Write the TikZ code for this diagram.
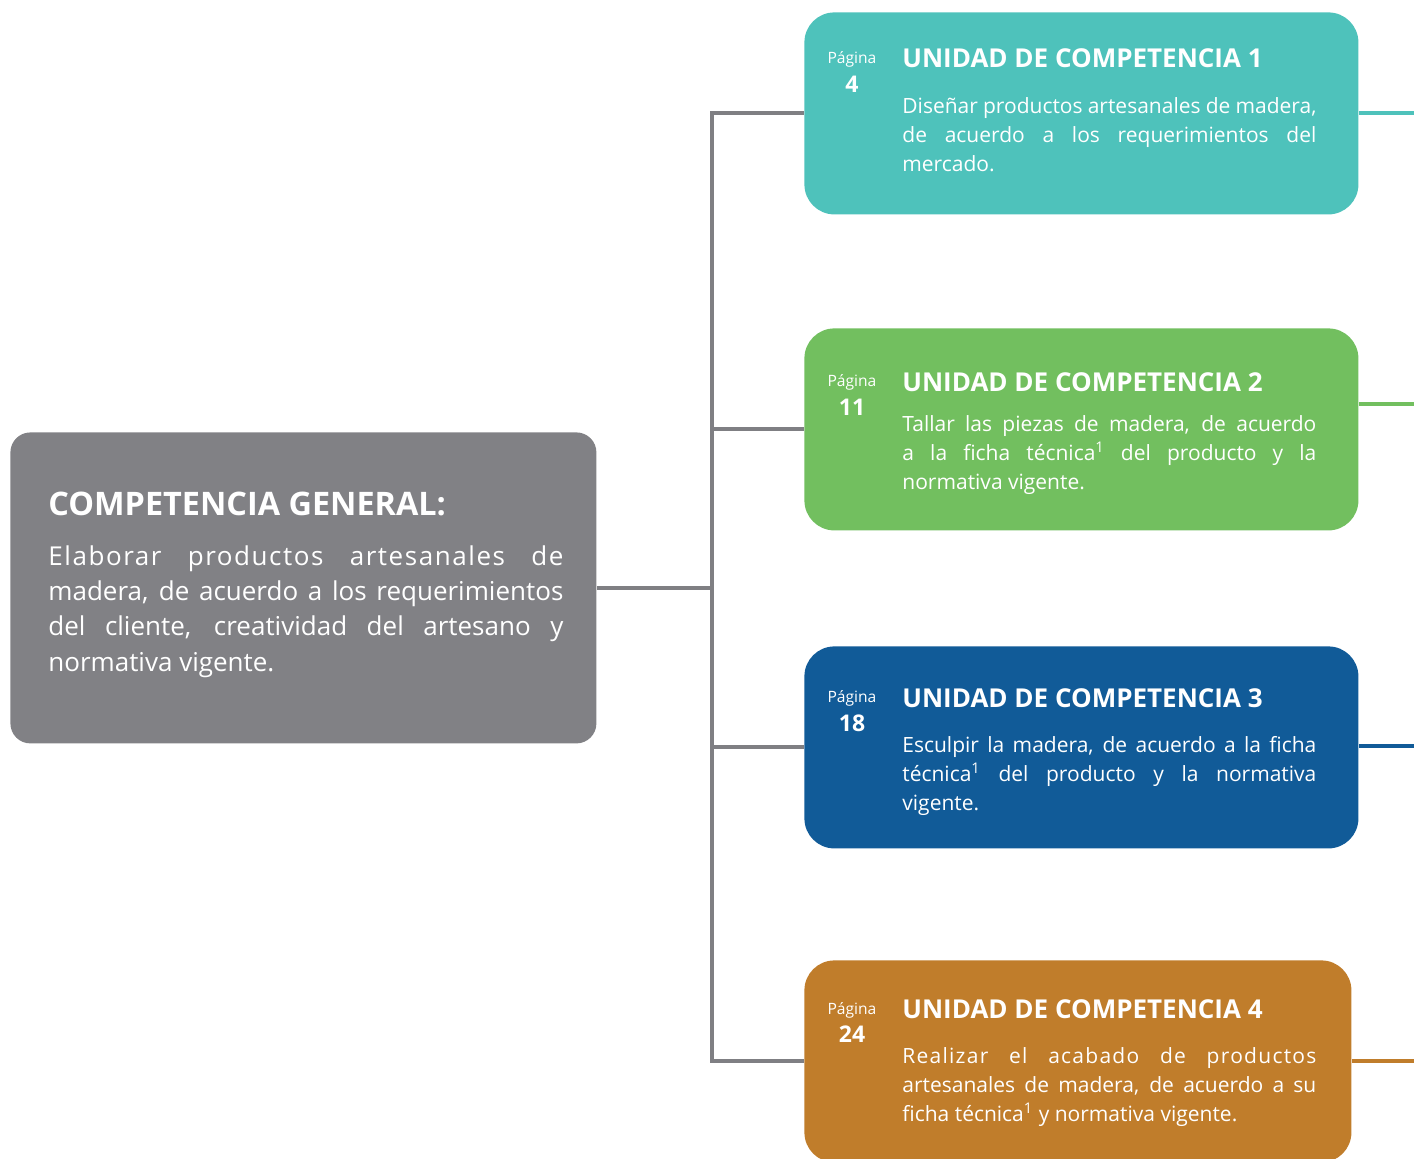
\documentclass[tikz,border=0pt]{standalone}
\usepackage{fontspec}
\setmainfont{Open Sans}
\usetikzlibrary{positioning}
\definecolor{gris}{HTML}{818185}
\definecolor{linea}{HTML}{7F7F83}
\definecolor{turquesa}{HTML}{4EC2BB}
\definecolor{verde}{HTML}{72BF5F}
\definecolor{azul}{HTML}{115B98}
\definecolor{ocre}{HTML}{C07D2B}
\begin{document}
\begin{tikzpicture}[x=0.5pt, y=-0.5pt,
  caja/.style={rounded corners=15pt, anchor=north west, minimum width=277pt, minimum height=101pt, inner sep=0pt},
  pag/.style={white, inner sep=0pt, anchor=base, font=\fontsize{7.8}{9}\selectfont},
  num/.style={white, inner sep=0pt, anchor=base, font=\fontsize{11.5}{13}\selectfont\bfseries},
  titulo/.style={white, inner sep=0pt, anchor=base west, font=\fontsize{13}{15}\selectfont\bfseries},
  texto/.style={white, inner sep=0pt, anchor=base west, text width=207pt, align=justify, font=\fontsize{10.5}{14.5}\selectfont},
  conector/.style={linea, line width=2pt}]
\useasboundingbox (0,0) rectangle (1414,1158);
\clip (0,0) rectangle (1414,1158);

\node[caja, fill=gris, rounded corners=10pt, minimum width=293pt, minimum height=155.5pt] (gen) at (10,432) {};
\node[white, inner sep=0pt, anchor=base west, font=\fontsize{16.2}{19}\selectfont\bfseries] (gentit) at (48,515) {COMPETENCIA GENERAL:};
\node[texto, text width=257.5pt, font=\fontsize{13}{17.7}\selectfont] (gentxt) at (48,565) {{\addfontfeature{LetterSpace=6}Elaborar productos artesanales de}\linebreak madera, de acuerdo a los requerimientos\linebreak del cliente, creatividad del artesano y\linebreak normativa vigente.};

\node[caja, fill=turquesa] (uc1) at (804,12) {};
\node[pag] (pag1) at (852,63) {Página};
\node[num] (num1) at (852,92) {4};
\node[titulo] (tit1) at (902,67) {UNIDAD DE COMPETENCIA 1};
\node[texto] (txt1) at (902,113) {Diseñar productos artesanales de madera,\linebreak de acuerdo a los requerimientos del\linebreak mercado.};

\node[caja, fill=verde] (uc2) at (804,328) {};
\node[pag] (pag2) at (852,386) {Página};
\node[num] (num2) at (852,415) {11};
\node[titulo] (tit2) at (902,391) {UNIDAD DE COMPETENCIA 2};
\node[texto] (txt2) at (902,431) {Tallar las piezas de madera, de acuerdo\linebreak a la ficha técnica\textsuperscript{1} del producto y la\linebreak normativa vigente.};

\node[caja, fill=azul] (uc3) at (804,646) {};
\node[pag] (pag3) at (852,702) {Página};
\node[num] (num3) at (852,731) {18};
\node[titulo] (tit3) at (902,707) {UNIDAD DE COMPETENCIA 3};
\node[texto] (txt3) at (902,752) {Esculpir la madera, de acuerdo a la ficha\linebreak técnica\textsuperscript{1} del producto y la normativa\linebreak vigente.};

\node[caja, fill=ocre, minimum width=273.5pt] (uc4) at (804,960) {};
\node[pag] (pag4) at (852,1014) {Página};
\node[num] (num4) at (852,1042) {24};
\node[titulo] (tit4) at (902,1018) {UNIDAD DE COMPETENCIA 4};
\node[texto] (txt4) at (902,1063) {{\addfontfeature{LetterSpace=6}Realizar el acabado de productos}\linebreak artesanales de madera, de acuerdo a su\linebreak ficha técnica\textsuperscript{1} y normativa vigente.};

\coordinate (tronco) at (712,0);
\draw[conector] (gen.east) -- (gen.east -| tronco);
\draw[conector] (uc1.west) -| (uc4.west -| tronco) -- (uc4.west);
\draw[conector] (uc2.west) -- (uc2.west -| tronco);
\draw[conector] (uc3.west) -- (uc3.west -| tronco);

\coordinate (s1) at (1414,113);
\coordinate (s2) at (1414,404);
\coordinate (s3) at (1414,746);
\coordinate (s4) at (1414,1061);
\draw[line width=2pt, turquesa] (uc1.east |- s1) -- (s1);
\draw[line width=2pt, verde] (uc2.east |- s2) -- (s2);
\draw[line width=2pt, azul] (uc3.east |- s3) -- (s3);
\draw[line width=2pt, ocre] (uc4.east |- s4) -- (s4);
\end{tikzpicture}
\end{document}
